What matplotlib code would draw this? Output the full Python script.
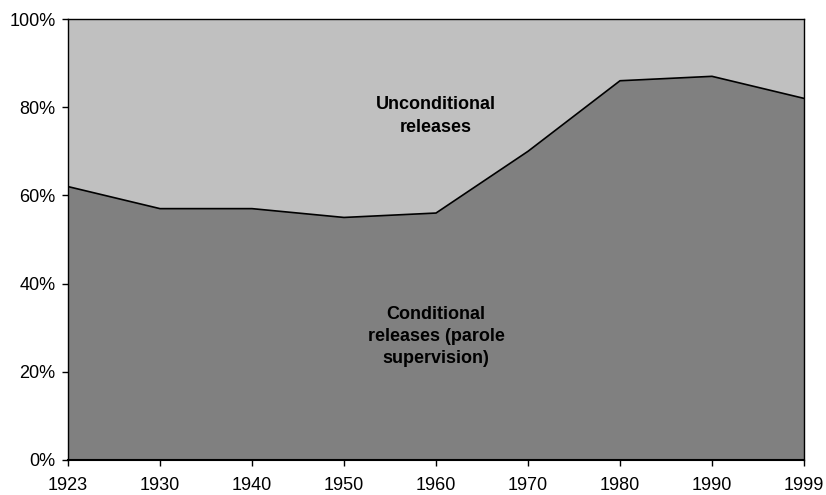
import numpy as np
import matplotlib.pyplot as plt
from matplotlib.ticker import PercentFormatter

plt.rcParams['font.family'] = ['Liberation Sans', 'DejaVu Sans']

years = ["1923", "1930", "1940", "1950", "1960", "1970", "1980", "1990", "1999"]
conditional = [62, 57, 57, 55, 56, 70, 86, 87, 82]
unconditional = [100 - c for c in conditional]

x = np.arange(len(years))

fig = plt.figure(figsize=(8.26, 4.95), dpi=100)
ax = fig.add_axes([68/826, 35/495, (804-68)/826, (460-19)/495])

ax.stackplot(x, conditional, unconditional, colors=["#808080", "#C0C0C0"])
ax.plot(x, conditional, color="black", lw=1.2)

ax.set_xlim(0, len(years) - 1)
ax.set_ylim(0, 100)
ax.set_xticks(x)
ax.set_xticklabels(years)
ax.set_yticks([0, 20, 40, 60, 80, 100])
ax.yaxis.set_major_formatter(PercentFormatter(decimals=0))
ax.tick_params(labelsize=13, length=4, width=1, direction="out", colors="black")
ax.tick_params(axis="x", pad=8)
ax.tick_params(axis="y", pad=5)
for s in ax.spines.values():
    s.set_linewidth(1)
    s.set_color("black")
ax.spines["bottom"].set_linewidth(1.5)

ax.text(4, 78, "Unconditional\nreleases", ha="center", va="center",
        fontsize=13, fontweight="bold", linespacing=1.4)
ax.text(4, 28, "Conditional\nreleases (parole\nsupervision)", ha="center", va="center",
        fontsize=13, fontweight="bold", linespacing=1.4)

fig.savefig("out.png", dpi=100)
